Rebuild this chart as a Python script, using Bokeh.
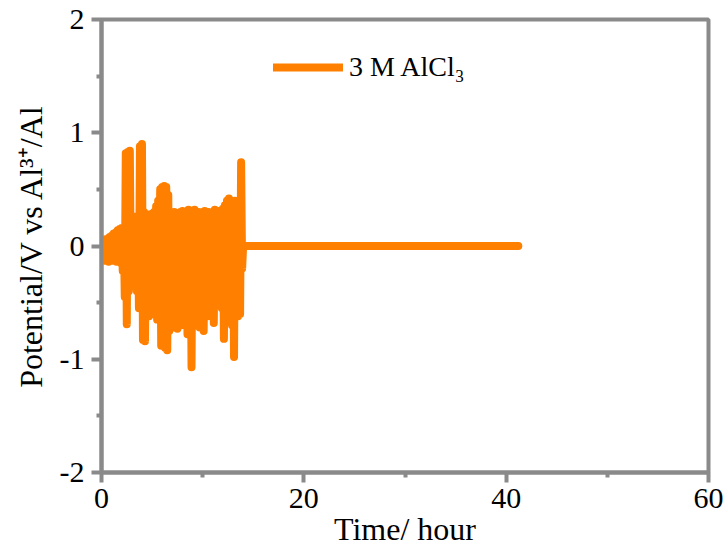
from bokeh.plotting import figure
from bokeh.models import (Range1d, Legend, LegendItem, FixedTicker,
                          PrintfTickFormatter)
from bokeh.embed import file_html
from bokeh.resources import INLINE

# Data (hour, volt)
time_h = [0.0, 0.1, 0.2, 0.3, 0.4, 0.5, 0.6, 0.7, 0.8, 0.9,
          1.0, 1.1, 1.2, 1.3, 1.4, 1.5, 1.6, 1.7, 1.8, 1.9,
          2.0, 2.1, 2.2, 2.3, 2.4, 2.5, 2.6, 2.7, 2.8, 2.9,
          3.0, 3.1, 3.2, 3.3, 3.4, 3.5, 3.6, 3.7, 3.8, 3.9,
          4.0, 4.1, 4.2, 4.3, 4.4, 4.5, 4.6, 4.7, 4.8, 4.9,
          5.0, 5.1, 5.2, 5.3, 5.4, 5.5, 5.6, 5.7, 5.8, 5.9,
          6.0, 6.1, 6.2, 6.3, 6.4, 6.5, 6.6, 6.7, 6.8, 6.9,
          7.0, 7.1, 7.2, 7.3, 7.4, 7.5, 7.6, 7.7, 7.8, 7.9,
          8.0, 8.1, 8.2, 8.3, 8.4, 8.5, 8.6, 8.7, 8.8, 8.9,
          9.0, 9.1, 9.2, 9.3, 9.4, 9.5, 9.6, 9.7, 9.8, 9.9,
          10.0, 10.1, 10.2, 10.3, 10.4, 10.5, 10.6, 10.7, 10.8, 10.9,
          11.0, 11.1, 11.2, 11.3, 11.4, 11.5, 11.6, 11.7, 11.8, 11.9,
          12.0, 12.1, 12.2, 12.3, 12.4, 12.5, 12.6, 12.7, 12.8, 12.9,
          13.0, 13.1, 13.2, 13.3, 13.4, 13.5, 13.6, 13.7, 13.8, 13.9,
          14.0, 41.2]
potential_v = [0.00, -0.12, 0.04, -0.13, 0.06, -0.11, 0.05, -0.14, 0.08, -0.12,
               0.09, -0.13, 0.11, -0.12, 0.12, -0.14, 0.14, -0.13, 0.15, -0.15,
               0.16, -0.22, 0.15, -0.45, 0.82, -0.69, 0.83, -0.40, 0.84, -0.30,
               0.25, -0.35, 0.22, -0.30, 0.26, -0.40, 0.24, -0.55, 0.88, -0.45,
               0.90, -0.83, 0.30, -0.84, 0.28, -0.55, 0.27, -0.62, 0.28, -0.45,
               0.27, -0.60, 0.30, -0.50, 0.35, -0.65, 0.40, -0.55, 0.50, -0.88,
               0.52, -0.70, 0.53, -0.90, 0.52, -0.92, 0.45, -0.75, 0.28, -0.65,
               0.27, -0.72, 0.30, -0.55, 0.29, -0.73, 0.27, -0.60, 0.30, -0.70,
               0.31, -0.50, 0.29, -0.62, 0.30, -0.78, 0.32, -0.55, 0.31, -1.07,
               0.30, -0.60, 0.32, -0.70, 0.28, -0.55, 0.30, -0.72, 0.27, -0.50,
               0.30, -0.75, 0.31, -0.55, 0.28, -0.62, 0.30, -0.45, 0.27, -0.55,
               0.30, -0.68, 0.32, -0.48, 0.29, -0.50, 0.31, -0.40, 0.30, -0.55,
               0.33, -0.82, 0.36, -0.50, 0.40, -0.45, 0.42, -0.60, 0.38, -0.70,
               0.35, -0.98, 0.40, -0.55, 0.33, -0.62, 0.30, -0.60, 0.74, -0.20,
               0.00, 0.00]

series_label = "3 M AlCl\u2083"
x_title = "Time/ hour"
y_title = "Potential/V vs Al\u00b3\u207a/Al"
x_ticks = [0, 20, 40, 60]
x_minor = [10, 30, 50]
y_ticks = [-2, -1, 0, 1, 2]
y_minor = [-1.5, -0.5, 0.5, 1.5]

AXIS_COLOR = "#8a8a8a"
LINE_COLOR = "#ff8000"
FONT = "Liberation Serif"

p = figure(width=728, height=560, output_backend="svg", toolbar_location=None,
           x_range=Range1d(0, 60), y_range=Range1d(-2, 2),
           min_border_left=101, min_border_right=20, min_border_top=19,
           min_border_bottom=88)
p.grid.visible = False
p.outline_line_color = AXIS_COLOR
p.outline_line_width = 4
p.background_fill_color = "white"
p.border_fill_color = "white"

r = p.line(time_h, potential_v, line_color=LINE_COLOR, line_width=8,
           line_join="round", line_cap="round")

for ax in (p.xaxis[0], p.yaxis[0]):
    ax.axis_line_color = AXIS_COLOR
    ax.axis_line_width = 4
    ax.major_tick_line_color = AXIS_COLOR
    ax.major_tick_line_width = 4
    ax.minor_tick_line_color = AXIS_COLOR
    ax.minor_tick_line_width = 4
    ax.major_tick_out = 10
    ax.major_tick_in = 0
    ax.minor_tick_out = 5
    ax.minor_tick_in = 0
    ax.major_label_text_font = FONT
    ax.major_label_text_font_size = "30px"
    ax.major_label_text_color = "black"
    ax.formatter = PrintfTickFormatter(format="%d")
    ax.axis_label_text_font = FONT
    ax.axis_label_text_font_size = "32px"
    ax.axis_label_text_font_style = "normal"
    ax.axis_label_text_color = "black"

p.xaxis[0].ticker = FixedTicker(ticks=x_ticks, minor_ticks=x_minor)
p.yaxis[0].ticker = FixedTicker(ticks=y_ticks, minor_ticks=y_minor)
p.xaxis[0].axis_label = x_title
p.yaxis[0].axis_label = y_title
p.xaxis[0].major_label_standoff = 6
p.yaxis[0].major_label_standoff = 7
p.xaxis[0].axis_label_standoff = 0
p.yaxis[0].axis_label_standoff = 8

legend = Legend(items=[LegendItem(label=series_label, renderers=[r])],
                location=(172, 389), border_line_color=None,
                background_fill_alpha=0, padding=0, margin=0,
                glyph_width=70, glyph_height=24, label_standoff=6,
                label_text_font=FONT, label_text_font_size="28px",
                label_text_color="black")
p.add_layout(legend)

open("out.html", "w").write(file_html(p, INLINE))
